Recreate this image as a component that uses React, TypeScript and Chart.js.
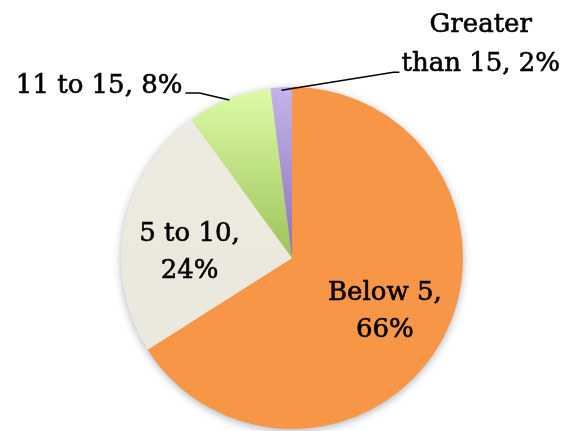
import React, { useEffect, useRef } from "react";
import { Chart, registerables } from "chart.js";

Chart.register(...registerables);

// ---- data ----
const categories = ["Below 5", "5 to 10", "11 to 15", "Greater than 15"];
const percentages = [66, 24, 8, 2];
const labelLines: string[][] = [
  ["Below 5,", "66%"],
  ["5 to 10,", "24%"],
  ["11 to 15, 8%"],
  ["Greater", "than 15, 2%"],
];
// top / bottom colour of each slice's gradient
const colorTop = ["#F79646", "#EEECE2", "#DDFCA6", "#C4B4EA"];
const colorBottom = ["#F79646", "#EBE9DD", "#9CC35A", "#8C71B8"];

const FONT_SIZE = 26;
const FONT = `${FONT_SIZE}px "DejaVu Serif", serif`;
const LINE_H = 37;

const shadowPlugin = {
  id: "pieShadow",
  beforeDatasetsDraw(chart: any) {
    const arc = chart.getDatasetMeta(0).data[0];
    if (!arc) return;
    const { x, y, outerRadius } = arc.getProps(["x", "y", "outerRadius"], true);
    const ctx = chart.ctx;
    ctx.save();
    ctx.shadowColor = "rgba(40,50,70,0.4)";
    ctx.shadowBlur = 8;
    ctx.shadowOffsetX = 0;
    ctx.shadowOffsetY = 2;
    ctx.beginPath();
    ctx.arc(x, y, outerRadius - 0.5, 0, Math.PI * 2);
    ctx.fillStyle = "#d8c8b0";
    ctx.fill();
    ctx.restore();
  },
};

function drawText(ctx: CanvasRenderingContext2D, t: string, x: number, y: number) {
  ctx.fillText(t, x, y);
  ctx.lineWidth = 0.6;
  ctx.strokeText(t, x, y);
}

const labelPlugin = {
  id: "pieLabels",
  afterDatasetsDraw(chart: any) {
    const ctx = chart.ctx;
    const meta = chart.getDatasetMeta(0);
    ctx.save();
    ctx.font = FONT;
    ctx.fillStyle = "#000";
    ctx.strokeStyle = "#000";
    ctx.textBaseline = "alphabetic";
    const capH = FONT_SIZE * 0.73;
    meta.data.forEach((arc: any, i: number) => {
      const { x, y, startAngle, endAngle, outerRadius } = arc.getProps(
        ["x", "y", "startAngle", "endAngle", "outerRadius"],
        true
      );
      const mid = (startAngle + endAngle) / 2;
      const ux = Math.cos(mid);
      const uy = Math.sin(mid);
      const lines = labelLines[i];
      if (i === 0 || i === 1) {
        const f = i === 0 ? 0.62 : 0.61;
        const cx = x + ux * outerRadius * f;
        const cy = y + uy * outerRadius * f + (i === 1 ? 12 : 0);
        ctx.textAlign = "center";
        lines.forEach((t, k) => {
          const by = cy + capH / 2 + (k - (lines.length - 1) / 2) * LINE_H;
          drawText(ctx, t, cx, by);
        });
      } else if (i === 2) {
        const ex = x + ux * (outerRadius - 1);
        const ey = y + uy * (outerRadius - 1);
        const bendX = ex - 30;
        const bendY = ey - 7;
        const endX = bendX - 14;
        ctx.lineWidth = 1.5;
        ctx.beginPath();
        ctx.moveTo(ex, ey);
        ctx.lineTo(bendX, bendY);
        ctx.lineTo(endX, bendY);
        ctx.stroke();
        ctx.textAlign = "right";
        drawText(ctx, lines[0], endX - 3, bendY);
      } else if (i === 3) {
        const ex = x + ux * (outerRadius - 3);
        const ey = y + uy * (outerRadius - 3);
        const bendX = ex + 112;
        const bendY = ey - 18;
        const endX = bendX + 6;
        ctx.lineWidth = 1.5;
        ctx.beginPath();
        ctx.moveTo(ex, ey);
        ctx.lineTo(bendX, bendY);
        ctx.lineTo(endX, bendY);
        ctx.stroke();
        ctx.textAlign = "left";
        const w2 = ctx.measureText(lines[1]).width;
        const left = endX + 2;
        const centerX = left + w2 / 2;
        const base2 = bendY - 1;
        drawText(ctx, lines[1], left, base2);
        ctx.textAlign = "center";
        drawText(ctx, lines[0], centerX, base2 - 39);
      }
    });
    ctx.restore();
  },
};

export default function App() {
  const ref = useRef<HTMLCanvasElement>(null);
  useEffect(() => {
    document.body.style.margin = "0";
    const canvas = ref.current!;
    const bg = (c: any) => {
      const i = c.dataIndex;
      const area = c.chart.chartArea;
      if (!area) return colorTop[i];
      const g = c.chart.ctx.createLinearGradient(0, area.top, 0, (area.top + area.bottom) / 2);
      g.addColorStop(0, colorTop[i]);
      g.addColorStop(1, colorBottom[i]);
      return g;
    };
    const chart = new Chart(canvas, {
      type: "pie",
      data: {
        labels: categories,
        datasets: [
          {
            data: percentages,
            backgroundColor: bg,
            borderWidth: 0,
          },
        ],
      },
      options: {
        responsive: false,
        animation: false,
        layout: { padding: { top: 87, bottom: 2, left: 121, right: 107 } },
        plugins: { legend: { display: false }, tooltip: { enabled: false } },
      },
      plugins: [shadowPlugin, labelPlugin],
    });
    return () => chart.destroy();
  }, []);
  return (
    <div style={{ position: "fixed", left: 0, top: 0, width: 570, height: 431, background: "#fff" }}>
      <canvas ref={ref} width={570} height={431} />
    </div>
  );
}
